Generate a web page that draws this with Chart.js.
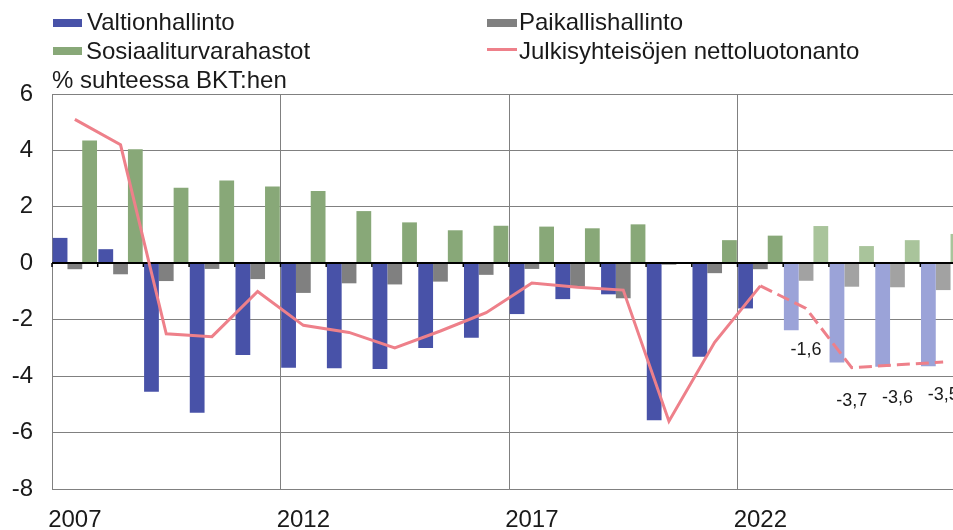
<!DOCTYPE html>
<html><head><meta charset="utf-8">
<script src="https://cdn.jsdelivr.net/npm/chart.js@4/dist/chart.umd.min.js"></script>
<style>
html,body{margin:0;padding:0;width:953px;height:530px;overflow:hidden;background:#fff;}
#wrap{position:relative;width:953px;height:530px;overflow:hidden;}
#c{position:absolute;left:0;top:0;}
.t{position:absolute;font-family:"Liberation Sans",Arial,sans-serif;font-size:24px;line-height:24px;color:#1a1a1a;white-space:nowrap;}
.sw{position:absolute;}
</style></head><body>
<div id="wrap">
<canvas id="c" width="966" height="530"></canvas>
</div>
<script>
// ---- data ----
const years = ['2007','2008','2009','2010','2011','2012','2013','2014','2015','2016','2017','2018','2019','2020','2021','2022','2023','2024','2025','2026'];
const tickLabels = ['2007','','','','','2012','','','','','2017','','','','','2022','','','',''];
const valtionhallinto = [0.9,0.5,-4.55,-5.3,-3.25,-3.7,-3.72,-3.75,-3.0,-2.64,-1.8,-1.27,-1.1,-5.56,-3.31,-1.6,-2.37,-3.52,-3.67,-3.65];
const paikallishallinto = [-0.21,-0.39,-0.63,-0.2,-0.56,-1.05,-0.71,-0.75,-0.65,-0.41,-0.2,-0.83,-1.24,-0.05,-0.35,-0.21,-0.62,-0.83,-0.85,-0.95];
const sosiaaliturva = [4.35,4.04,2.68,2.93,2.72,2.56,1.85,1.45,1.17,1.33,1.3,1.24,1.38,0.03,0.82,0.98,1.32,0.61,0.82,1.04];
const nettoluotonanto = [5.1,4.2,-2.5,-2.6,-1.0,-2.2,-2.45,-3.0,-2.4,-1.75,-0.7,-0.85,-0.95,-5.6,-2.8,-0.8,-1.6,-3.7,-3.6,-3.5];
const valueLabels = [null,null,null,null,null,null,null,null,null,null,null,null,null,null,null,null,'-1,6','-3,7','-3,6','-3,5'];
const forecastStart = 16;
const seriesNames = ['Valtionhallinto','Paikallishallinto','Sosiaaliturvarahastot','Julkisyhteisöjen nettoluotonanto'];
const unitLabel = '% suhteessa BKT:hen';

// ---- styles ----
const FONT = '"Liberation Sans", Arial, sans-serif';
const C = {
  blue:'#4852A8', blueL:'#9BA3D8',
  gray:'#808080', grayL:'#A2A2A2',
  green:'#88A878', greenL:'#A9C49B',
  pink:'#EE808A', grid:'#808080', text:'#1a1a1a'
};
const colorsFor = (dark, light) => years.map((_, i) => i >= forecastStart ? light : dark);

// ---- legend (HTML text) ----
const wrap = document.getElementById('wrap');
function addEl(cls, style, text){
  const d = document.createElement('div'); d.className = cls; d.style.cssText = style;
  if (text) d.textContent = text; wrap.appendChild(d);
}
addEl('sw','left:53px;top:19px;width:29px;height:8px;background:'+C.blue);
addEl('t','left:87px;top:10px',seriesNames[0]);
addEl('sw','left:487px;top:19px;width:30px;height:8px;background:'+C.gray);
addEl('t','left:519px;top:10px',seriesNames[1]);
addEl('sw','left:53px;top:47px;width:29px;height:8px;background:'+C.green);
addEl('t','left:86px;top:39px',seriesNames[2]);
addEl('sw','left:487px;top:48px;width:30px;height:3px;background:'+C.pink);
addEl('t','left:519px;top:39px',seriesNames[3]);
addEl('t','left:52px;top:68px',unitLabel);

// ---- plugins ----
const zeroLine = {
  id:'zeroLine',
  beforeDatasetDraw(chart, args){
    if (args.index !== 3) return;
    const {ctx, chartArea:a, scales:{x, y}} = chart;
    const y0 = Math.round(y.getPixelForValue(0));
    ctx.save();
    ctx.strokeStyle = '#000';
    ctx.lineWidth = 2;
    ctx.beginPath(); ctx.moveTo(a.left, y0); ctx.lineTo(a.right, y0); ctx.stroke();
    ctx.lineWidth = 1.5;
    const n = years.length;
    for (let i = 0; i <= n; i++) {
      let px;
      if (i === 0) px = a.left;
      else if (i === n) px = x.getPixelForValue(n-1) + (x.getPixelForValue(n-1) - x.getPixelForValue(n-2))/2;
      else px = (x.getPixelForValue(i-1) + x.getPixelForValue(i))/2;
      ctx.beginPath(); ctx.moveTo(px, y0); ctx.lineTo(px, y0 + 4); ctx.stroke();
    }
    ctx.restore();
  }
};
const valueLabelPlugin = {
  id:'valueLabelPlugin',
  afterDatasetsDraw(chart, args, opts){
    const meta = chart.getDatasetMeta(3);
    const ctx = chart.ctx;
    ctx.save();
    ctx.font = '18px ' + FONT;
    ctx.fillStyle = C.text;
    ctx.textAlign = 'center';
    ctx.textBaseline = 'middle';
    meta.data.forEach((pt, i) => {
      if (!valueLabels[i]) return;
      const dy = i === forecastStart ? opts.firstOffset : opts.offset;
      ctx.fillText(valueLabels[i], pt.x, pt.y + dy);
    });
    ctx.restore();
  }
};

// ---- chart ----
new Chart(document.getElementById('c'), {
  type:'bar',
  data:{
    labels: years,
    datasets:[
      {label:seriesNames[0], data:valtionhallinto, backgroundColor:colorsFor(C.blue,C.blueL), order:1, categoryPercentage:0.97, barPercentage:1},
      {label:seriesNames[1], data:paikallishallinto, backgroundColor:colorsFor(C.gray,C.grayL), order:1, categoryPercentage:0.97, barPercentage:1},
      {label:seriesNames[2], data:sosiaaliturva, backgroundColor:colorsFor(C.green,C.greenL), order:1, categoryPercentage:0.97, barPercentage:1},
      {label:seriesNames[3], type:'line', data:nettoluotonanto, borderColor:C.pink, borderWidth:3, pointRadius:0, order:0, tension:0,
        segment:{ borderDash: c => c.p0DataIndex >= forecastStart-1 ? [13,6] : undefined }}
    ]
  },
  options:{
    responsive:false, animation:false,
    layout:{padding:{top:94,left:0,right:0,bottom:0}},
    plugins:{legend:{display:false}, tooltip:{enabled:false},
      valueLabelPlugin:{offset:33, firstOffset:42}},
    scales:{
      x:{
        offset:true,
        grid:{offset:true, drawTicks:false, lineWidth:1,
          color: c => (c.index > 0 && c.index % 5 === 0) ? C.grid : 'rgba(0,0,0,0)'},
        border:{display:true, color:C.grid},
        ticks:{autoSkip:false, maxRotation:0, minRotation:0, padding:17, color:C.text,
          font:{family:FONT, size:24}, callback:(v,i)=>tickLabels[i]},
        afterFit: s => { s.height = 41; }
      },
      y:{
        min:-8, max:6,
        ticks:{stepSize:2, padding:19, color:C.text, font:{family:FONT, size:24}},
        grid:{drawTicks:false, color:C.grid, lineWidth:1},
        border:{display:true, color:C.grid},
        afterFit: s => { s.width = 52; }
      }
    }
  },
  plugins:[zeroLine, valueLabelPlugin]
});
</script>
</body></html>
